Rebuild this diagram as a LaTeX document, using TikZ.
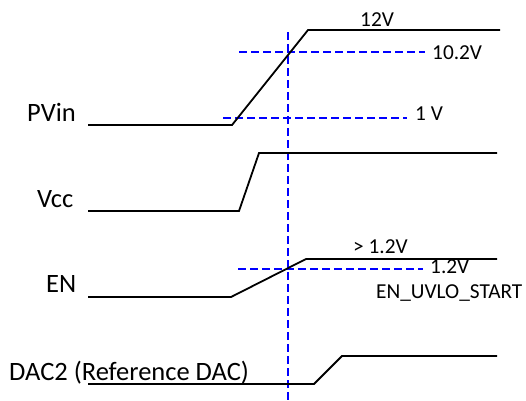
\documentclass[tikz,border=0pt]{standalone}
\usepackage{fontspec}
\setmainfont{Carlito}
\begin{document}
\begin{tikzpicture}[x=1pt,y=-1pt,
  sig/.style={black,line width=1.8pt,line join=miter},
  guide/.style={blue,line width=1.7pt,dash pattern=on 8pt off 4pt},
  big/.style={anchor=base west,inner sep=0pt,font=\fontsize{26.5}{30}\selectfont},
  small/.style={anchor=base west,inner sep=0pt,font=\fontsize{21.3}{25}\selectfont}]
\useasboundingbox (0,0) rectangle (526,400);
% guides
\draw[guide] (288,32) -- (288,400);
\draw[guide] (239,52) -- (425,52);
\draw[guide] (223,118) -- (407,118);
\draw[guide] (238,269) -- (423,269);
% signals
\draw[sig] (88,125) -- (232,125) -- (308,30) -- (500,30);
\draw[sig] (88,211) -- (239,211) -- (259,153) -- (497,153);
\draw[sig] (88,297) -- (231,297) -- (306,259) -- (497,259);
\draw[sig] (88,384) -- (314,384) -- (342,356) -- (497,356);
% labels
\node[small] (v12) at (360,26) {12V};
\node[small] (v102) at (432,59) {10.2V};
\node[small] (v1) at (415,120) {1 V};
\node[big] (pvin) at (27,121) {PVin};
\node[big] (vcc) at (37,207) {Vcc};
\node[big] (en) at (46,292) {EN};
\node[small] (gt12) at (353,253) {> 1.2V};
\node[small] (v12b) at (430,273) {1.2V};
\node[small] (uvlo) at (376,298) {EN\_UVLO\_START};
\node[big] (dac) at (9,380) {DAC2 (Reference DAC)};
\end{tikzpicture}
\end{document}
